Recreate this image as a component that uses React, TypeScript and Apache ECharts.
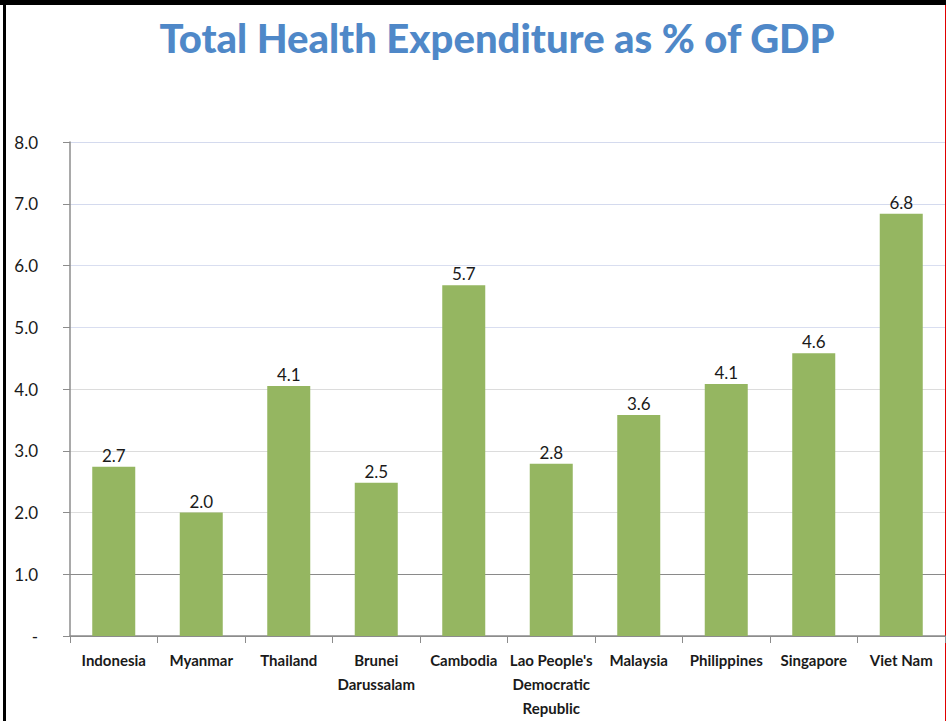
import React, { useEffect, useRef } from "react";
import * as echarts from "echarts";

const categories = [
  "Indonesia",
  "Myanmar",
  "Thailand",
  "Brunei\nDarussalam",
  "Cambodia",
  "Lao People's\nDemocratic\nRepublic",
  "Malaysia",
  "Philippines",
  "Singapore",
  "Viet Nam",
];
const values = [2.74, 2.0, 4.05, 2.48, 5.68, 2.79, 3.58, 4.08, 4.58, 6.84];
const labels = ["2.7", "2.0", "4.1", "2.5", "5.7", "2.8", "3.6", "4.1", "4.6", "6.8"];
const yTicks = [0, 1, 2, 3, 4, 5, 6, 7, 8];
const title = "Total Health Expenditure as % of GDP";

export default function App() {
  const ref = useRef<HTMLDivElement>(null);
  useEffect(() => {
    if (!ref.current) return;
    const chart = echarts.init(ref.current, undefined, { renderer: "svg" });
    chart.setOption({
      animation: false,
      backgroundColor: "#ffffff",
      title: {
        text: title,
        left: 492,
        top: 13,
        textAlign: "center",
        textStyle: {
          fontFamily: "Lato",
          fontWeight: 900,
          fontSize: 40,
          color: "#4f88c8",
        },
      },
      grid: { left: 70, right: 7, top: 142, bottom: 85, containLabel: false },
      xAxis: {
        type: "category",
        data: categories,
        axisLine: { show: true, lineStyle: { color: "#8c8c8c", width: 1.5 } },
        axisTick: { show: true, length: 7, alignWithLabel: false, lineStyle: { color: "#8c8c8c" } },
        axisLabel: {
          interval: 0,
          margin: 12,
          fontFamily: "Lato",
          fontWeight: "bold",
          fontSize: 15,
          lineHeight: 24,
          color: "#1a1a1a",
          verticalAlign: "top",
        },
      },
      yAxis: {
        type: "value",
        min: yTicks[0],
        max: yTicks[yTicks.length - 1],
        interval: 1,
        axisLine: { show: true, lineStyle: { color: "#8c8c8c", width: 1.5 } },
        axisTick: { show: true, length: 7, lineStyle: { color: "#8c8c8c" } },
        axisLabel: {
          margin: 32,
          fontFamily: "Lato",
          fontSize: 17,
          color: "#1a1a1a",
          formatter: (v: number) => (v === 0 ? "-" : v.toFixed(1)),
        },
        splitLine: {
          show: true,
          lineStyle: {
            color: ["#8c8c8c", "#8a8a8a", "#dedede", "#dcdcdc", "#dcdcdc", "#d9def0", "#d9def0", "#d4daee", "#d4daee"],
            width: 1,
          },
        },
      },
      series: [
        {
          type: "bar",
          data: values,
          barWidth: 43,
          itemStyle: { color: "#95b661" },
          label: {
            show: true,
            position: "top",
            distance: 3,
            fontFamily: "Lato",
            fontSize: 17,
            color: "#1a1a1a",
            formatter: (p: any) => labels[p.dataIndex],
          },
        },
      ],
      graphic: [
        { type: "rect", shape: { x: 0, y: 0, width: 946, height: 5 }, style: { fill: "#000" }, silent: true },
        { type: "rect", shape: { x: 3, y: 0, width: 3, height: 721 }, style: { fill: "#000" }, silent: true },
        { type: "line", shape: { x1: 945.5, y1: 5, x2: 945.5, y2: 721 }, style: { stroke: "#e00000", lineWidth: 1 }, silent: true },
      ],
    });
    return () => chart.dispose();
  }, []);
  return (
    <div
      ref={ref}
      style={{ position: "absolute", left: 0, top: 0, width: 952, height: 721 }}
    />
  );
}
